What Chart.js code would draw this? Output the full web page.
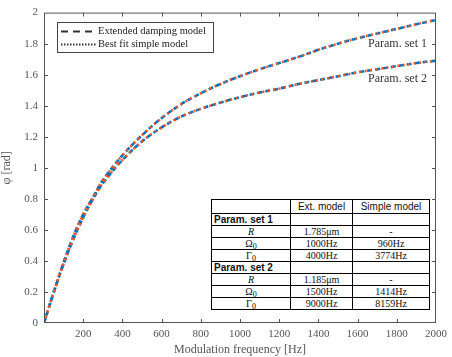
<!DOCTYPE html>
<html><head><meta charset="utf-8">
<script src="https://cdn.jsdelivr.net/npm/chart.js@4"></script>
<style>
html,body{margin:0;padding:0;background:#fff;}
#wrap{position:relative;width:452px;height:357px;}
canvas{position:absolute;left:0;top:0;}
table{position:absolute;left:211px;top:199px;border-collapse:collapse;table-layout:fixed;background:#fff;font-size:10px;color:#111;}
td{border:1px solid #000;padding:0 2px;height:11px;line-height:10px;text-align:center;font-family:"Liberation Serif","DejaVu Serif",serif;overflow:hidden;white-space:nowrap;}
td.s{font-family:"Liberation Sans",Arial,sans-serif;}
td.b{font-family:"Liberation Sans",Arial,sans-serif;font-weight:bold;text-align:left;}
tr.h td{height:13px;}
.sb{font-size:8px;position:relative;top:2px;line-height:0;color:#000;}
</style></head>
<body><div id="wrap"><canvas id="c" width="452" height="357"></canvas>
<table id="tb">
<colgroup><col style="width:79px"><col style="width:62px"><col style="width:77px"></colgroup>
<tr class="h"><td></td><td class="s">Ext. model</td><td class="s">Simple model</td></tr>
<tr><td class="b">Param. set 1</td><td></td><td></td></tr>
<tr><td><i>R</i></td><td>1.785μm</td><td>-</td></tr>
<tr><td>Ω<span class="sb">0</span></td><td>1000Hz</td><td>960Hz</td></tr>
<tr><td>Γ<span class="sb">0</span></td><td>4000Hz</td><td>3774Hz</td></tr>
<tr><td class="b">Param. set 2</td><td></td><td></td></tr>
<tr><td><i>R</i></td><td>1.185μm</td><td>-</td></tr>
<tr><td>Ω<span class="sb">0</span></td><td>1500Hz</td><td>1414Hz</td></tr>
<tr><td>Γ<span class="sb">0</span></td><td>9000Hz</td><td>8159Hz</td></tr>
</table></div>
<script>
const freq = [0,50,100,150,200,250,300,400,500,600,700,800,900,1000,1100,1200,1300,1400,1500,1600,1700,1800,1900,2000];
const set1Ext = [0,0.20,0.39,0.56,0.70,0.81,0.92,1.08,1.21,1.32,1.41,1.48,1.54,1.59,1.635,1.675,1.715,1.76,1.80,1.835,1.865,1.895,1.925,1.953];
const set1Simple = [0,0.20,0.39,0.56,0.70,0.81,0.92,1.08,1.21,1.32,1.41,1.48,1.54,1.59,1.635,1.675,1.715,1.76,1.80,1.835,1.865,1.895,1.925,1.953];
const set2Ext = [0,0.20,0.38,0.54,0.68,0.80,0.90,1.05,1.17,1.26,1.33,1.38,1.42,1.455,1.485,1.51,1.54,1.565,1.59,1.615,1.635,1.655,1.675,1.69];
const set2Simple = [0,0.20,0.38,0.54,0.68,0.80,0.90,1.05,1.17,1.26,1.33,1.38,1.42,1.455,1.485,1.51,1.54,1.565,1.59,1.615,1.635,1.655,1.675,1.69];
const legendLabels = ["Extended damping model","Best fit simple model"];
const curveLabels = ["Param. set 1","Param. set 2"];
const xTitle = "Modulation frequency [Hz]";
const yTitle = "φ [rad]";

const BLUE = "#0072BD", ORANGE = "#EE5A2E";
const pts = a => freq.map((f,i)=>({x:f,y:a[i]}));

const framePlugin = {
  id:'frame',
  afterDatasetsDraw(chart){
    const {ctx, chartArea:a, scales:{x,y}} = chart;
    ctx.save();
    ctx.strokeStyle = "#555"; ctx.lineWidth = 1;
    ctx.strokeRect(a.left+0.5, a.top+0.5, a.right-a.left-1, a.bottom-a.top-1);
    ctx.beginPath();
    for (let v=200; v<2000; v+=200){
      const px = Math.round(x.getPixelForValue(v))+0.5;
      ctx.moveTo(px,a.bottom); ctx.lineTo(px,a.bottom-4);
      ctx.moveTo(px,a.top); ctx.lineTo(px,a.top+4);
    }
    for (let i=1;i<10;i++){
      const py = Math.round(y.getPixelForValue(i*0.2))+0.5;
      ctx.moveTo(a.left,py); ctx.lineTo(a.left+4,py);
      ctx.moveTo(a.right,py); ctx.lineTo(a.right-4,py);
    }
    ctx.stroke();
    ctx.fillStyle = "#333";
    ctx.font = "12px 'Liberation Serif'";
    ctx.textBaseline = "middle";
    ctx.fillText(curveLabels[0], 368, 44);
    ctx.fillText(curveLabels[1], 368, 79);
    ctx.fillStyle = "#fff";
    ctx.fillRect(57,22,156,30);
    ctx.strokeStyle = "#444"; ctx.lineWidth = 1;
    ctx.strokeRect(57.5,22.5,156,30);
    ctx.strokeStyle = "#333"; ctx.lineWidth = 2.2;
    ctx.setLineDash([7,5]);
    ctx.beginPath(); ctx.moveTo(61,31.5); ctx.lineTo(96,31.5); ctx.stroke();
    ctx.setLineDash([1.5,1.5]); ctx.lineWidth = 2;
    ctx.beginPath(); ctx.moveTo(61,44.5); ctx.lineTo(96,44.5); ctx.stroke();
    ctx.setLineDash([]);
    ctx.fillStyle = "#222";
    ctx.font = "10.5px 'Liberation Serif'";
    ctx.fillText(legendLabels[0], 98, 31.5);
    ctx.fillText(legendLabels[1], 98, 44.5);
    ctx.restore();
  }
};

const common = {pointRadius:0, tension:0.35, fill:false};
new Chart(document.getElementById('c'), {
  type:'line',
  data:{datasets:[
    {label:legendLabels[0], data:pts(set1Ext), borderColor:BLUE, borderWidth:2.6, borderDash:[5,3], order:2, ...common},
    {label:legendLabels[0], data:pts(set2Ext), borderColor:BLUE, borderWidth:2.6, borderDash:[5,3], order:2, ...common},
    {label:legendLabels[1], data:pts(set1Simple), borderColor:ORANGE, borderWidth:2.5, borderDash:[2,3.5], order:1, ...common},
    {label:legendLabels[1], data:pts(set2Simple), borderColor:ORANGE, borderWidth:2.5, borderDash:[2,3.5], order:1, ...common}
  ]},
  options:{
    responsive:false, animation:false,
    layout:{padding:{top:11,right:11,left:0,bottom:0}},
    plugins:{legend:{display:false}, tooltip:{enabled:false}},
    scales:{
      x:{type:'linear', min:0, max:2000,
        afterFit(s){s.height=34;},
        grid:{display:false, drawTicks:false}, border:{display:false},
        ticks:{stepSize:200, padding:5, color:"#555", font:{family:"Liberation Serif", size:11},
          callback:v=> v===0 ? '' : v},
        title:{display:true, text:xTitle, color:"#555", font:{family:"Liberation Serif", size:12}, padding:{top:0,bottom:0}}
      },
      y:{min:0, max:2,
        afterFit(s){s.width=44;},
        grid:{display:false, drawTicks:false}, border:{display:false},
        ticks:{stepSize:0.2, padding:6, color:"#555", font:{family:"Liberation Serif", size:11},
          callback:v=> Math.round(v*10)/10},
        title:{display:true, text:yTitle, color:"#555", font:{family:"Liberation Serif", size:12}, padding:{top:0,bottom:0}}
      }
    }
  },
  plugins:[framePlugin]
});
</script></body></html>
